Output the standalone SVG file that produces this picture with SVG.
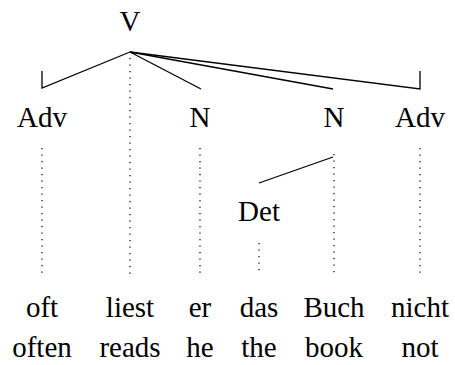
<svg xmlns="http://www.w3.org/2000/svg" width="455" height="365" viewBox="0 0 455 365">
<defs>
<g id="unused"/>
</defs>
<rect width="455" height="365" fill="#fff"/>
<g id="connectors" fill="none" stroke="#000">
<g stroke-width="1.3">
<polyline points="42,71 42,88 130,52"/>
<line x1="130" y1="52" x2="201" y2="89"/>
<line x1="130" y1="52" x2="333" y2="89"/>
<polyline points="130,52 420,89 420,71"/>
<line x1="333" y1="157" x2="259" y2="183"/>
</g>
<g stroke-width="1.2" stroke-dasharray="1.2 5.3">
<line x1="130" y1="58" x2="130" y2="277"/>
<line x1="42" y1="148" x2="42" y2="275"/>
<line x1="200" y1="148" x2="200" y2="276"/>
<line x1="334" y1="154" x2="334" y2="276"/>
<line x1="420" y1="148" x2="420" y2="276"/>
<line x1="259" y1="243" x2="259" y2="275"/>
</g>
</g>
<g id="node-V"><text x="130" y="31" font-size="29" font-family="Liberation Serif" text-anchor="middle">V</text></g>
<g id="node-Adv1"><text x="42" y="127" font-size="29" font-family="Liberation Serif" text-anchor="middle">Adv</text></g>
<g id="node-N1"><text x="200" y="127" font-size="29" font-family="Liberation Serif" text-anchor="middle">N</text></g>
<g id="node-N2"><text x="334" y="127" font-size="29" font-family="Liberation Serif" text-anchor="middle">N</text></g>
<g id="node-Adv2"><text x="420" y="127" font-size="29" font-family="Liberation Serif" text-anchor="middle">Adv</text></g>
<g id="node-Det"><text x="259" y="221" font-size="29" font-family="Liberation Serif" text-anchor="middle">Det</text></g>
<g id="words">
<text x="42" y="317" font-size="29" font-family="Liberation Serif" text-anchor="middle">oft</text>
<text x="130" y="317" font-size="29" font-family="Liberation Serif" text-anchor="middle">liest</text>
<text x="200" y="317" font-size="29" font-family="Liberation Serif" text-anchor="middle">er</text>
<text x="259" y="317" font-size="29" font-family="Liberation Serif" text-anchor="middle">das</text>
<text x="334" y="317" font-size="29" font-family="Liberation Serif" text-anchor="middle">Buch</text>
<text x="420" y="317" font-size="29" font-family="Liberation Serif" text-anchor="middle">nicht</text>
</g>
<g id="glosses">
<text x="42" y="357" font-size="29" font-family="Liberation Serif" text-anchor="middle">often</text>
<text x="130" y="357" font-size="29" font-family="Liberation Serif" text-anchor="middle">reads</text>
<text x="200" y="357" font-size="29" font-family="Liberation Serif" text-anchor="middle">he</text>
<text x="259" y="357" font-size="29" font-family="Liberation Serif" text-anchor="middle">the</text>
<text x="334" y="357" font-size="29" font-family="Liberation Serif" text-anchor="middle">book</text>
<text x="420" y="357" font-size="29" font-family="Liberation Serif" text-anchor="middle">not</text>
</g>
</svg>
